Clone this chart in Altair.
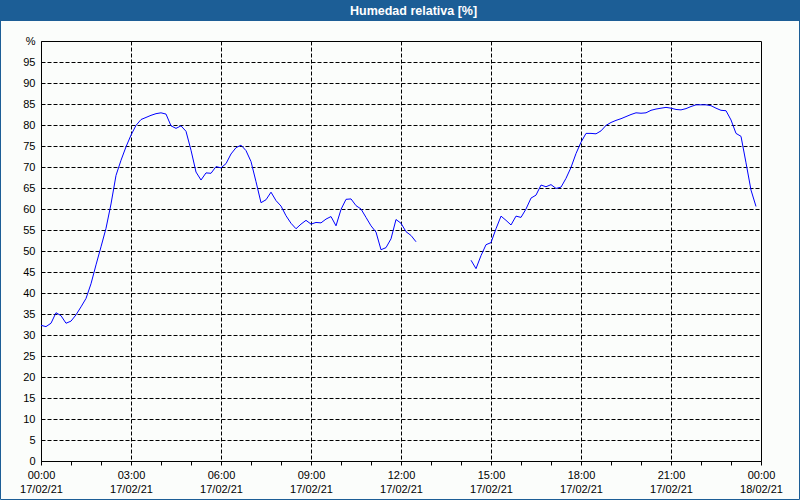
import altair as alt
import pandas as pd

TITLE = "Humedad relativa [%]"

# Segment 1 (00:00 - 12:30)
times_a = ["00:00","00:10","00:20","00:30","00:40","00:50","01:00","01:10","01:20","01:30",
           "01:40","01:50","02:00","02:10","02:20","02:30","02:40","02:50","03:00","03:10",
           "03:20","03:30","03:40","03:50","04:00","04:10","04:20","04:30","04:40","04:50",
           "05:00","05:10","05:20","05:30","05:40","05:50","06:00","06:10","06:20","06:30",
           "06:40","06:50","07:00","07:10","07:20","07:30","07:40","07:50","08:00","08:10",
           "08:20","08:30","08:40","08:50","09:00","09:10","09:20","09:30","09:40","09:50",
           "10:00","10:10","10:20","10:30","10:40","10:50","11:00","11:10","11:20","11:30",
           "11:40","11:50","12:00","12:10","12:20","12:30"]
hum_a = [32.3,32.0,32.8,35.3,34.6,32.8,33.3,34.8,36.7,38.7,
         42.2,46.7,51.0,55.4,61.2,68.0,71.6,74.8,77.6,79.9,
         81.3,81.8,82.3,82.7,82.9,82.6,79.8,79.2,79.8,78.5,
         74.0,68.8,66.9,68.6,68.5,70.1,69.8,70.8,73.1,74.6,
         75.2,73.9,71.3,66.5,61.5,62.2,64.0,62.0,60.7,58.4,
         56.6,55.3,56.4,57.3,56.4,56.8,56.7,57.6,58.2,56.0,
         59.9,62.3,62.4,60.8,60.0,58.0,56.0,54.5,50.3,50.8,
         52.9,57.5,56.6,54.6,53.7,52.2]

# Segment 2 (14:20 - 23:50)
times_b = ["14:20","14:30","14:40","14:50","15:00","15:10","15:20","15:30","15:40","15:50",
           "16:00","16:10","16:20","16:30","16:40","16:50","17:00","17:10","17:20","17:30",
           "17:40","17:50","18:00","18:10","18:20","18:30","18:40","18:50","19:00","19:10",
           "19:20","19:30","19:40","19:50","20:00","20:10","20:20","20:30","20:40","20:50",
           "21:00","21:10","21:20","21:30","21:40","21:50","22:00","22:10","22:20","22:30",
           "22:40","22:50","23:00","23:10","23:20","23:30","23:40","23:50"]
hum_b = [47.8,45.8,48.9,51.5,52.0,55.3,58.3,57.3,56.2,58.3,
         58.0,60.0,62.6,63.3,65.7,65.3,65.8,64.9,65.2,67.3,
         69.9,73.2,75.9,78.0,78.0,77.9,78.6,79.9,80.6,81.1,
         81.5,82.0,82.5,82.9,82.8,82.9,83.5,83.8,84.0,84.2,
         84.0,83.7,83.6,83.9,84.4,84.8,84.8,84.8,84.6,84.0,
         83.5,83.4,81.2,78.0,77.3,71.0,64.5,60.6]

x_tick_times = ["00:00","03:00","06:00","09:00","12:00","15:00","18:00","21:00","00:00"]
x_tick_dates = ["17/02/21","17/02/21","17/02/21","17/02/21","17/02/21",
                "17/02/21","17/02/21","17/02/21","18/02/21"]
y_ticks = list(range(0, 101, 5))
x_hours = list(range(0, 25))

BLUE_BAR = "#1c5e96"
BG = "#fbfdfb"
FONT = "Liberation Sans"


def to_hours(t):
    h, m = t.split(":")
    return int(h) + int(m) / 60.0


df = pd.concat([
    pd.DataFrame({"hours": [to_hours(t) for t in times_a], "hum": hum_a, "seg": "a"}),
    pd.DataFrame({"hours": [to_hours(t) for t in times_b], "hum": hum_b, "seg": "b"}),
], ignore_index=True)

times_js = "[" + ",".join("'%s'" % t for t in x_tick_times) + "]"
dates_js = "[" + ",".join("'%s'" % d for d in x_tick_dates) + "]"

x_axis = alt.Axis(
    values=x_hours,
    labelExpr=f"datum.value % 3 == 0 ? [{times_js}[datum.value/3], {dates_js}[datum.value/3]] : ''",
    labelOverlap=False, labelFlush=False, labelFont=FONT, labelFontSize=11,
    labelColor="#000000", labelLineHeight=14, labelPadding=4,
    tickSize=4, tickColor="#000000", domainColor="#000000",
    grid=True, gridColor="#000000", gridDash=[4, 2], gridWidth=1,
    gridOpacity={"condition": {"test": "datum.value % 3 == 0 && datum.value > 0 && datum.value < 24", "value": 1}, "value": 0},
    title=None,
)

y_axis = alt.Axis(
    values=y_ticks,
    labelExpr="datum.value == 100 ? '%' : datum.label",
    labelOverlap=False, labelFlush=False, labelFont=FONT, labelFontSize=11,
    labelColor="#000000", labelPadding=6,
    ticks=False, domainColor="#000000",
    grid=True, gridColor="#000000", gridDash=[4, 2], gridWidth=1,
    gridOpacity={"condition": {"test": "datum.value > 0 && datum.value < 100", "value": 1}, "value": 0},
    title=None,
)

line = alt.Chart(df).mark_line(color="#0000ff", strokeWidth=1).encode(
    x=alt.X("hours:Q", scale=alt.Scale(domain=[0, 24], nice=False, zero=False), axis=x_axis),
    y=alt.Y("hum:Q", scale=alt.Scale(domain=[0, 100], nice=False), axis=y_axis),
    detail="seg:N",
)

deco = alt.Chart(pd.DataFrame({"t": [TITLE]}))

frame = deco.mark_rect(fill="transparent", stroke=BLUE_BAR, strokeWidth=1).encode(
    x=alt.value(-40.5), x2=alt.value(758.5), y=alt.value(-40.5), y2=alt.value(458.5)
)
bar = deco.mark_rect(color=BLUE_BAR).encode(
    x=alt.value(-41), x2=alt.value(759), y=alt.value(-41), y2=alt.value(-20)
)
title_txt = deco.mark_text(
    color="#ffffff", font=FONT, fontSize=12.5, fontWeight="bold", align="left", baseline="alphabetic"
).encode(x=alt.value(309), y=alt.value(-26.5), text="t:N")

chart = alt.layer(frame, bar, title_txt, line).properties(
    width=720, height=420,
    padding={"left": 41, "top": 41, "right": 39, "bottom": 39},
    autosize="none",
    background=BG,
).configure_view(stroke="#000000", strokeWidth=1)

chart.save("out.html", embed_options={"renderer": "svg", "actions": False})
